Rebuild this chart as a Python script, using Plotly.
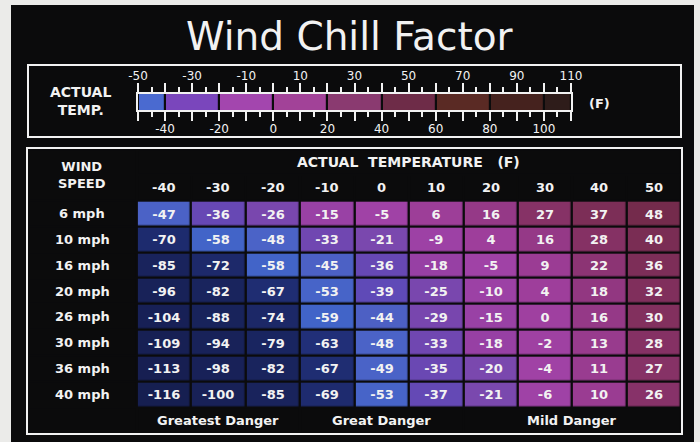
import plotly.graph_objects as go

# ---------------- data ----------------
temps = [-40, -30, -20, -10, 0, 10, 20, 30, 40, 50]
wind_speeds = ["6 mph", "10 mph", "16 mph", "20 mph", "26 mph", "30 mph", "36 mph", "40 mph"]
chill_6 = [-47, -36, -26, -15, -5, 6, 16, 27, 37, 48]
chill_10 = [-70, -58, -48, -33, -21, -9, 4, 16, 28, 40]
chill_16 = [-85, -72, -58, -45, -36, -18, -5, 9, 22, 36]
chill_20 = [-96, -82, -67, -53, -39, -25, -10, 4, 18, 32]
chill_26 = [-104, -88, -74, -59, -44, -29, -15, 0, 16, 30]
chill_30 = [-109, -94, -79, -63, -48, -33, -18, -2, 13, 28]
chill_36 = [-113, -98, -82, -67, -49, -35, -20, -4, 11, 27]
chill_40 = [-116, -100, -85, -69, -53, -37, -21, -6, 10, 26]
wind_chill = [chill_6, chill_10, chill_16, chill_20, chill_26, chill_30, chill_36, chill_40]

danger_labels = ["Greatest Danger", "Great Danger", "Mild Danger"]
danger_spans = [3, 3, 4]

scale_edges = [-50, -40, -20, 0, 20, 40, 60, 80, 100, 110]
scale_top_labels = [-50, -30, -10, 10, 30, 50, 70, 90, 110]
scale_bottom_labels = [-40, -20, 0, 20, 40, 60, 80, 100]

# ---------------- style ----------------
W, H = 700, 442
FONT = "DejaVu Sans, Arial, sans-serif"
WHITE = "#f2f2f2"
BLACK = "#0b0b0c"

band_colors = ["#4a6ad0", "#7a46bc", "#a346ae", "#a24298", "#8a3a70",
               "#6e2c48", "#5a2a24", "#45221e", "#2e1c1a"]

cell_stops = [
    (-120, "#161e50"), (-80, "#19245e"), (-62, "#21307a"), (-60, "#4064c8"),
    (-50, "#4a64c8"), (-41, "#4e5ec2"), (-40, "#5c4ab8"), (-30, "#7846ae"),
    (-20, "#7a48ae"), (-19, "#9640a4"), (-5, "#a042a6"), (5, "#9e3e9a"),
    (15, "#963a8a"), (22, "#8c3474"), (30, "#82305e"), (50, "#722a4a"),
]
zmin, zmax = cell_stops[0][0], cell_stops[-1][0]
cell_scale = [[(v - zmin) / (zmax - zmin), c] for v, c in cell_stops]


def px(x):
    return x / W


def py(y):
    return 1 - y / H


# table geometry (pixels)
TX0, TX1, TY0, TY1 = 28, 681, 149, 433
LABEL_UNITS = 2
HEADER_ROWS = 2
FOOTER_ROWS = 1
n_cols = len(temps)
n_rows = len(wind_speeds)
ux = (TX1 - TX0) / (n_cols + LABEL_UNITS)
uy = (TY1 - TY0) / (n_rows + HEADER_ROWS + FOOTER_ROWS)
GAP = 2.4
gx = GAP / 2 / ux
gy = GAP / 2 / uy

fig = go.Figure()

# data cells
fig.add_trace(go.Heatmap(
    x=list(range(n_cols)), y=list(range(n_rows)), z=wind_chill,
    text=[[str(v) for v in row] for row in wind_chill],
    colorscale=cell_scale, zmin=zmin, zmax=zmax, showscale=False,
    xgap=GAP, ygap=GAP,
    texttemplate="%{text}", textfont=dict(family=FONT, size=13, color=WHITE, weight="bold"),
    xaxis="x", yaxis="y", hoverinfo="skip",
))

# legend colour scale
nb = len(band_colors)
band_scale = []
for k, c in enumerate(band_colors):
    band_scale.append([k / nb, c])
    band_scale.append([(k + 1) / nb, c])
fig.add_trace(go.Heatmap(
    x=scale_edges, y=[0], z=[list(range(nb))],
    colorscale=band_scale, zmin=-0.5, zmax=nb - 0.5, showscale=False,
    xgap=2.2, xaxis="x2", yaxis="y2", hoverinfo="skip",
))
# invisible companion so that the lower scale axis is drawn
fig.add_trace(go.Scatter(
    x=scale_edges, y=[0] * len(scale_edges), mode="markers",
    marker=dict(size=1, opacity=0), xaxis="x3", yaxis="y2", hoverinfo="skip",
))

shapes = []
shapes.append(dict(type="rect", xref="paper", yref="paper", x0=px(11), x1=px(694),
                   y0=0, y1=py(5), fillcolor=BLACK, line=dict(width=0), layer="below"))
shapes.append(dict(type="rect", xref="paper", yref="paper", x0=px(28), x1=px(681),
                   y0=py(137), y1=py(65), line=dict(color=WHITE, width=2), layer="below"))


def black_cell(x0, x1, y0, y1):
    shapes.append(dict(type="rect", xref="x", yref="y",
                       x0=x0 + gx, x1=x1 - gx, y0=y0 + gy, y1=y1 - gy,
                       fillcolor=BLACK, line=dict(width=0), layer="below"))


xl0 = -0.5 - LABEL_UNITS
xl1 = -0.5
yh0 = -0.5 - HEADER_ROWS
black_cell(xl0, xl1, yh0, -0.5)
black_cell(-0.5, n_cols - 0.5, yh0, yh0 + 1)
for i in range(n_cols):
    black_cell(i - 0.5, i + 0.5, -1.5, -0.5)
for j in range(n_rows):
    black_cell(xl0, xl1, j - 0.5, j + 0.5)
black_cell(xl0, xl1, n_rows - 0.5, n_rows + 0.5)
start = 0
for span in danger_spans:
    black_cell(start - 0.5, start + span - 0.5, n_rows - 0.5, n_rows + 0.5)
    start += span

ann = []
tf = dict(family=FONT, size=13, color=WHITE, weight="bold")
C = dict(showarrow=False, xanchor="center", yanchor="middle")
ann.append(dict(text="Wind Chill Factor", xref="paper", yref="paper", x=px(350), y=py(36),
                font=dict(family=FONT, size=39, color=WHITE), **C))
ann.append(dict(text="ACTUAL<br>TEMP.", xref="paper", yref="paper", x=px(80), y=py(101),
                font=dict(family=FONT, size=14, color=WHITE, weight="bold"), **C))
ann.append(dict(text="(F)", xref="paper", yref="paper", x=px(599), y=py(103),
                font=dict(family=FONT, size=13, color=WHITE, weight="bold"), **C))
ann.append(dict(text="WIND<br>SPEED", xref="x", yref="y", x=(xl0 + xl1) / 2, y=-1.5,
                font=tf, **C))
ann.append(dict(text="ACTUAL  TEMPERATURE   (F)", xref="x", yref="y", x=(n_cols - 1) / 2, y=-2,
                font=dict(family=FONT, size=14, color=WHITE, weight="bold"), **C))
for i, t in enumerate(temps):
    ann.append(dict(text=str(t), xref="x", yref="y", x=i, y=-1, font=tf, **C))
for j, w in enumerate(wind_speeds):
    ann.append(dict(text=w, xref="x", yref="y", x=(xl0 + xl1) / 2, y=j, font=tf, **C))
start = 0
for lab, span in zip(danger_labels, danger_spans):
    ann.append(dict(text=lab, xref="x", yref="y", x=start + (span - 1) / 2, y=n_rows,
                    font=tf, **C))
    start += span

tick10 = list(range(scale_edges[0], scale_edges[-1] + 1, 10))
top_text = [str(v) if v in scale_top_labels else "" for v in tick10]
bot_text = [str(v) if v in scale_bottom_labels else "" for v in tick10]
scale_axis = dict(range=[scale_edges[0], scale_edges[-1]], tickmode="array", tickvals=tick10,
                  ticks="outside", ticklen=9, tickwidth=2, tickcolor=WHITE,
                  showline=True, linecolor=WHITE, linewidth=2, showgrid=False, zeroline=False,
                  tickfont=dict(family=FONT, size=12, color=WHITE),
                  minor=dict(tickmode="linear", tick0=scale_edges[0], dtick=5, ticks="outside",
                             ticklen=5, tickwidth=1.5, tickcolor=WHITE, showgrid=False),
                  ticklabelstandoff=-2, fixedrange=True)

fig.update_layout(
    width=W, height=H, autosize=False,
    margin=dict(l=0, r=0, t=0, b=0, pad=0, autoexpand=False),
    paper_bgcolor="#ebebe9", plot_bgcolor=WHITE,
    showlegend=False,
    xaxis=dict(domain=[px(TX0), px(TX1)], range=[xl0, n_cols - 0.5], anchor="y",
               showticklabels=False, ticks="", showgrid=False, zeroline=False,
               showline=True, mirror=True, linecolor=WHITE, linewidth=2),
    yaxis=dict(domain=[py(TY1), py(TY0)], range=[n_rows - 0.5 + FOOTER_ROWS, yh0], anchor="x",
               showticklabels=False, ticks="", showgrid=False, zeroline=False,
               showline=True, mirror=True, linecolor=WHITE, linewidth=2),
    xaxis2=dict(domain=[px(138), px(571)], anchor="y2", side="top", ticktext=top_text,
                **scale_axis),
    xaxis3=dict(domain=[px(138), px(571)], anchor="y2", overlaying="x2", side="bottom",
                ticktext=bot_text, **scale_axis),
    yaxis2=dict(domain=[py(110), py(94)], range=[-0.5, 0.5], anchor="x2",
                showticklabels=False, ticks="", showgrid=False, zeroline=False,
                showline=True, mirror=True, linecolor=WHITE, linewidth=2),
    shapes=shapes, annotations=ann,
)

fig.write_html("out.html", config={"responsive": False, "displayModeBar": False},
               post_script="document.body.style.margin='0';document.body.style.overflow='hidden';")
